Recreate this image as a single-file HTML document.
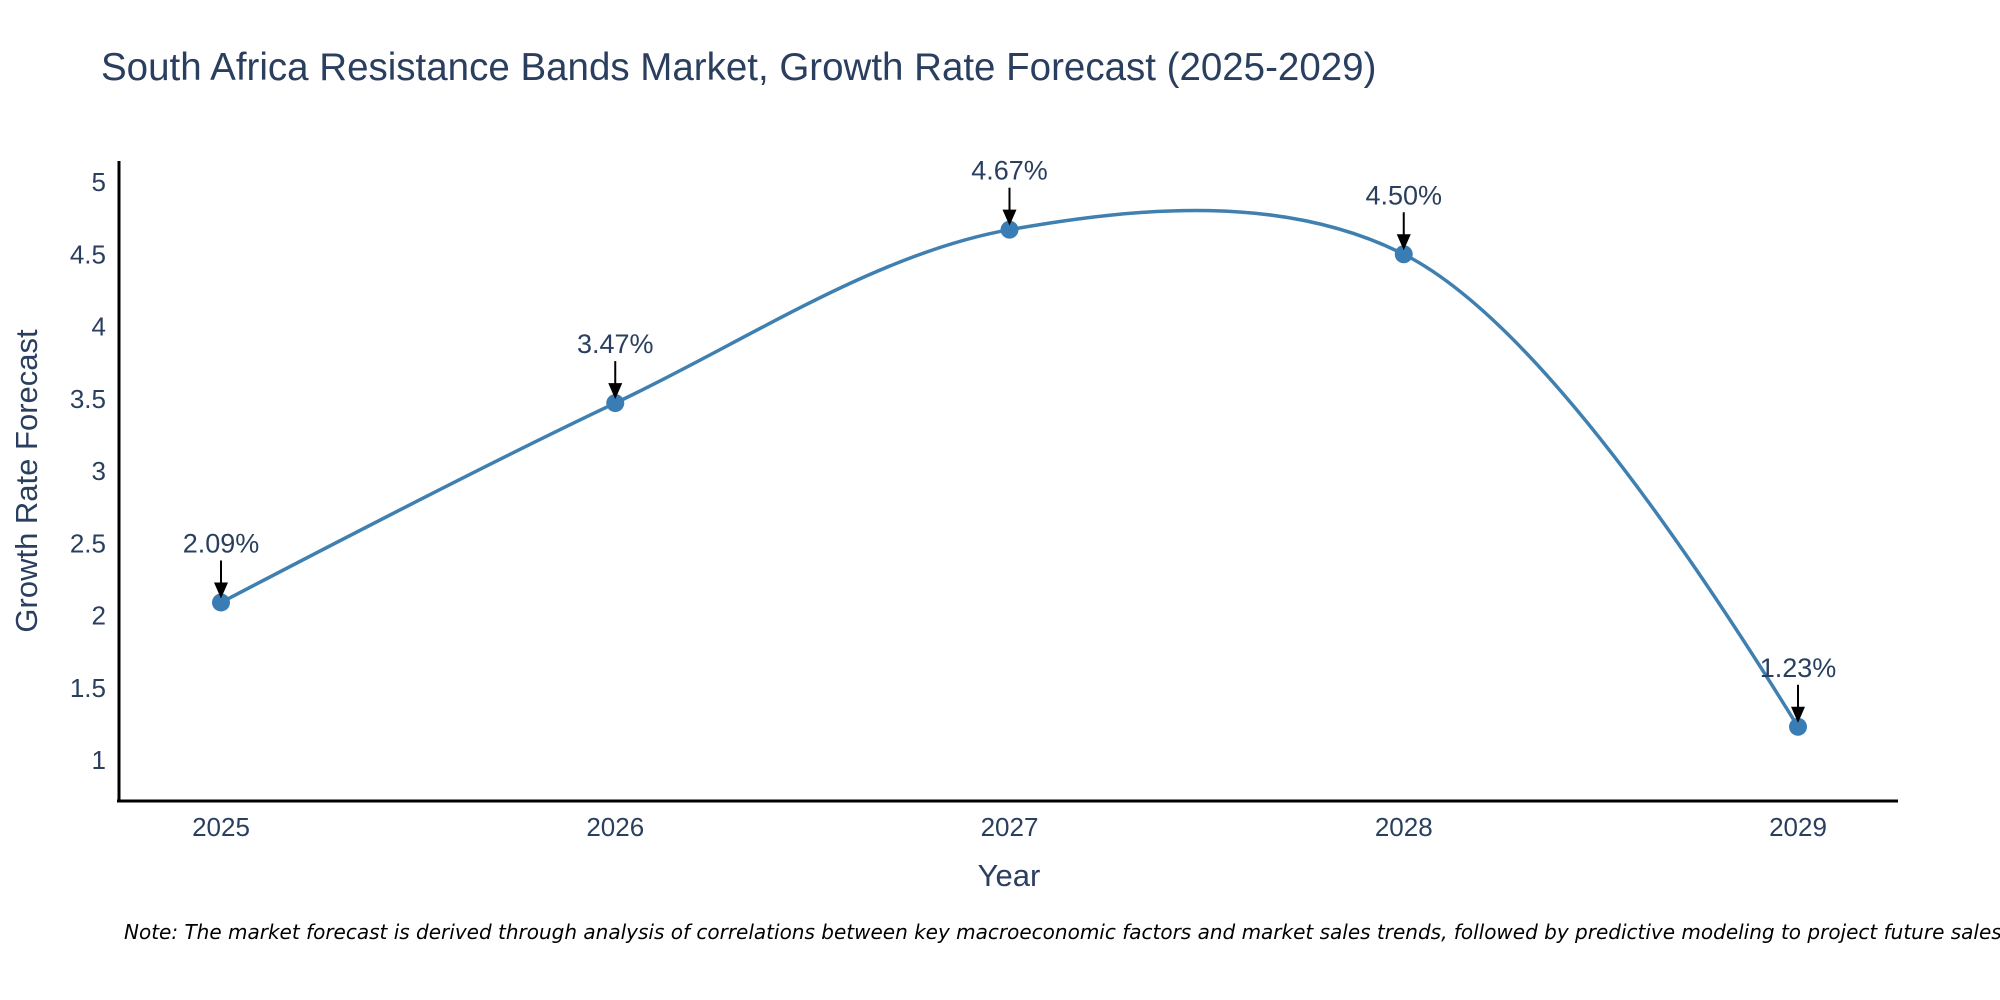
<!DOCTYPE html>
<html><head><meta charset="utf-8">
<style>
body{margin:0;background:#fff;}
svg{display:block;font-family:"Liberation Sans",sans-serif;}
</style></head>
<body>
<svg id="chart" width="2000" height="1000" viewBox="0 0 2000 1000">
<text x="101" y="80" font-size="38.5" fill="#2a3f5f">South Africa Resistance Bands Market, Growth Rate Forecast (2025-2029)</text>
<g id="yticks"></g>
<g id="xticks"></g>
<line x1="119" y1="161" x2="119" y2="802" stroke="#000" stroke-width="3"/>
<line x1="117" y1="801" x2="1898" y2="801" stroke="#000" stroke-width="3"/>
<text transform="translate(37,481) rotate(-90)" text-anchor="middle" font-size="31" fill="#2a3f5f">Growth Rate Forecast</text>
<text x="1009" y="886" text-anchor="middle" font-size="31" fill="#2a3f5f">Year</text>
<g id="series"></g>
<text x="124" y="939" font-size="20" font-style="italic" fill="#000" font-family="'DejaVu Sans',sans-serif">Note: The market forecast is derived through analysis of correlations between key macroeconomic factors and market sales trends, followed by predictive modeling to project future sales.</text>
</svg>
<script>
const years = [2025, 2026, 2027, 2028, 2029];
const growth = [2.09, 3.47, 4.67, 4.50, 1.23];
const labels = ["2.09%", "3.47%", "4.67%", "4.50%", "1.23%"];
const yTicks = [1, 1.5, 2, 2.5, 3, 3.5, 4, 4.5, 5];
const yTickLabels = ["1", "1.5", "2", "2.5", "3", "3.5", "4", "4.5", "5"];

const NS = "http://www.w3.org/2000/svg";
function xScale(v){ return 221 + (v - 2025) * (1798 - 221) / 4; }
function yScale(v){ return 760 - (v - 1) * (760 - 182) / 4; }
function mk(tag, attrs, parent){
  const e = document.createElementNS(NS, tag);
  for (const k in attrs) e.setAttribute(k, attrs[k]);
  parent.appendChild(e); return e;
}
const yg = document.getElementById('yticks');
yTicks.forEach((t, i) => {
  const el = mk('text', {x: 106, y: yScale(t) + 9, 'text-anchor': 'end', 'font-size': 26, fill: '#2a3f5f'}, yg);
  
  
  el.textContent = yTickLabels[i];
});
const xg = document.getElementById('xticks');
years.forEach(y => {
  const el = mk('text', {x: xScale(y), y: 836, 'text-anchor': 'middle', 'font-size': 26, fill: '#2a3f5f'}, xg);
  
  
  el.textContent = String(y);
});
const pts = years.map((y, i) => [xScale(y), yScale(growth[i])]);
function tangent(p, c, n, s){
  const d1x=p[0]-c[0], d1y=p[1]-c[1], d2x=n[0]-c[0], d2y=n[1]-c[1];
  const d1a=Math.pow(d1x*d1x+d1y*d1y,0.25), d2a=Math.pow(d2x*d2x+d2y*d2y,0.25);
  const nx=(d2a*d2a*d1x-d1a*d1a*d2x)*s, ny=(d2a*d2a*d1y-d1a*d1a*d2y)*s;
  const den1=3*d2a*(d1a+d2a), den2=3*d1a*(d1a+d2a);
  return [[c[0]+nx/den1, c[1]+ny/den1],[c[0]-nx/den2, c[1]-ny/den2]];
}
const tg = [];
for (let i = 1; i < pts.length - 1; i++) tg.push(tangent(pts[i-1], pts[i], pts[i+1], 1.0));
const f = p => p[0].toFixed(2) + ',' + p[1].toFixed(2);
let d = 'M' + f(pts[0]) + 'Q' + f(tg[0][0]) + ' ' + f(pts[1]);
for (let i = 2; i < pts.length - 1; i++) d += 'C' + f(tg[i-2][1]) + ' ' + f(tg[i-1][0]) + ' ' + f(pts[i]);
d += 'Q' + f(tg[pts.length-3][1]) + ' ' + f(pts[pts.length-1]);
const sg = document.getElementById('series');
const line = mk('path', {d: d, fill: 'none', stroke: '#3f80b0', 'stroke-width': 3.5}, sg);


pts.forEach((p, i) => {
  const c = mk('circle', {cx: p[0], cy: p[1], r: 9, fill: '#3a7db5'}, sg);
  
  
  const a = mk('line', {x1: p[0], y1: p[1] - 42, x2: p[0], y2: p[1] - 18, stroke: '#000', 'stroke-width': 2}, sg);
  
  
  const h = mk('polygon', {points: (p[0]-7)+','+(p[1]-20)+' '+(p[0]+7)+','+(p[1]-20)+' '+p[0]+','+(p[1]-4), fill: '#000'}, sg);
  
  
  const t = mk('text', {x: p[0], y: p[1] - 50, 'text-anchor': 'middle', 'font-size': 27, fill: '#2a3f5f'}, sg);
  
  
  t.textContent = labels[i];
});
</script>
</body></html>
